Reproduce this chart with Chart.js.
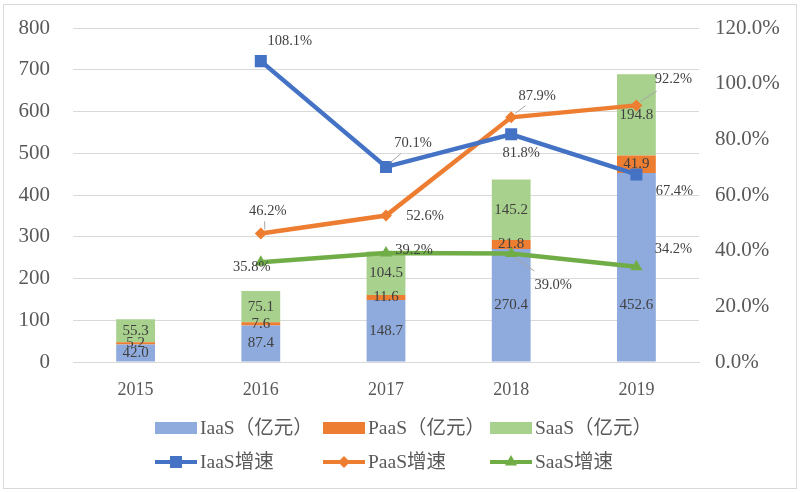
<!DOCTYPE html>
<html>
<head>
<meta charset="utf-8">
<script src="https://cdn.jsdelivr.net/npm/chart.js@4.4.1/dist/chart.umd.min.js"></script>
<style>
html, body { margin: 0; padding: 0; background: #fff; }
#wrap { position: relative; width: 800px; height: 492px; }
#wrap:after { content: ''; position: absolute; left: 3px; top: 4px; right: 3px; bottom: 3px; border: 1px solid #d9d9d9; pointer-events: none; }
</style>
</head>
<body>
<div id="wrap"><canvas id="c" width="800" height="492"></canvas></div>
<script>
// data
const years = ['2015', '2016', '2017', '2018', '2019'];
const iaas = [42.0, 87.4, 148.7, 270.4, 452.6];
const paas = [5.2, 7.6, 11.6, 21.8, 41.9];
const saas = [55.3, 75.1, 104.5, 145.2, 194.8];
const iaasGrowth = [null, 108.1, 70.1, 81.8, 67.4];
const paasGrowth = [null, 46.2, 52.6, 87.9, 92.2];
const saasGrowth = [null, 35.8, 39.2, 39.0, 34.2];
const leftMax = 800, leftStep = 100;
const rightMax = 120, rightStep = 20;

// label placement (pixels from the centre of the segment / from the point)
const iaasBarLabelDy = [0, 0, 0, 0, 38];
const iaasLabelPos = [null, [29, -20, 0], [27, -24, 1], [10, 19, 0], [38, 17, 0]];
const paasLabelPos = [null, [7, -22, 1], [39, 1, 0], [26, -21, 1], [37, -26, 1]];
const saasLabelPos = [null, [-9, 5, 0], [28, -3, 0], [42, 32, 1], [37, -18, 0]];

const SERIF = '"Liberation Serif", "Noto Sans CJK SC", serif';

const labelPlugin = {
  id: 'valueLabels',
  afterDatasetsDraw(chart) {
    const ctx = chart.ctx;
    ctx.save();
    ctx.fillStyle = '#404040';
    ctx.textAlign = 'center';
    ctx.textBaseline = 'middle';
    chart.data.datasets.forEach((ds, i) => {
      const meta = chart.getDatasetMeta(i);
      meta.data.forEach((el, j) => {
        const v = ds.data[j];
        if (v == null) return;
        if (ds.type === 'bar') {
          ctx.font = '15px ' + SERIF;
          const dy = ds.labelDy ? ds.labelDy[j] : 0;
          ctx.fillText(v.toFixed(1), el.x, (el.y + el.base) / 2 + dy);
        } else {
          ctx.font = '14.5px ' + SERIF;
          const p = ds.labelPos[j];
          const lx = el.x + p[0], ly = el.y + p[1];
          if (p[2]) {
            ctx.strokeStyle = '#a6a6a6';
            ctx.lineWidth = 1;
            ctx.beginPath();
            ctx.moveTo(el.x + Math.sign(p[0]) * 4, el.y + Math.sign(p[1]) * 4);
            ctx.lineTo(lx - p[0] * 0.45, ly - p[1] * 0.45);
            ctx.stroke();
          }
          ctx.fillText(v.toFixed(1) + '%', lx, ly);
        }
      });
    });
    ctx.restore();
  }
};

const legendPlugin = {
  id: 'gridLegend',
  afterDraw(chart) {
    const ctx = chart.ctx;
    const cols = [155, 323, 490];
    const rows = [428, 462];
    ctx.save();
    ctx.font = '19.5px ' + SERIF;
    ctx.textAlign = 'left';
    ctx.textBaseline = 'middle';
    chart.data.datasets.forEach((ds, i) => {
      const x = cols[i % 3], y = rows[Math.floor(i / 3)];
      if (ds.type === 'bar') {
        ctx.fillStyle = ds.backgroundColor;
        ctx.fillRect(x, y - 6, 42, 12);
      } else {
        ctx.strokeStyle = ds.borderColor;
        ctx.lineWidth = 4;
        ctx.beginPath();
        ctx.moveTo(x, y);
        ctx.lineTo(x + 42, y);
        ctx.stroke();
        ctx.fillStyle = ds.borderColor;
        Chart.helpers.drawPoint(ctx, { pointStyle: ds.pointStyle, radius: ds.pointRadius, rotation: 0, borderWidth: 0 }, x + 21, y);
      }
      ctx.fillStyle = '#595959';
      ctx.fillText(ds.label, x + 45, y + 1);
    });
    ctx.restore();
  }
};

const noPad = s => { s.paddingTop = 0; s.paddingBottom = 0; };

new Chart(document.getElementById('c'), {
  data: {
    labels: years,
    datasets: [
      { type: 'bar', label: 'IaaS（亿元）', data: iaas, backgroundColor: '#8FAADC', stack: 's', yAxisID: 'y', order: 1, labelDy: iaasBarLabelDy },
      { type: 'bar', label: 'PaaS（亿元）', data: paas, backgroundColor: '#ED7D31', stack: 's', yAxisID: 'y', order: 1 },
      { type: 'bar', label: 'SaaS（亿元）', data: saas, backgroundColor: '#A9D18E', stack: 's', yAxisID: 'y', order: 1 },
      { type: 'line', label: 'IaaS增速', data: iaasGrowth, borderColor: '#4472C4', backgroundColor: '#4472C4',
        borderWidth: 4.5, pointStyle: 'rect', pointRadius: 8.5, yAxisID: 'y1', order: 0, labelPos: iaasLabelPos },
      { type: 'line', label: 'PaaS增速', data: paasGrowth, borderColor: '#ED7D31', backgroundColor: '#ED7D31',
        borderWidth: 4.5, pointStyle: 'rectRot', pointRadius: 6, yAxisID: 'y1', order: 0, labelPos: paasLabelPos },
      { type: 'line', label: 'SaaS增速', data: saasGrowth, borderColor: '#70AD47', backgroundColor: '#70AD47',
        borderWidth: 4.5, pointStyle: 'triangle', pointRadius: 7, yAxisID: 'y1', order: 0, labelPos: saasLabelPos }
    ]
  },
  options: {
    responsive: false,
    animation: false,
    layout: { padding: { top: 28, left: 0, right: 0, bottom: 0 } },
    plugins: { legend: { display: false }, tooltip: { enabled: false } },
    datasets: {
      bar: { categoryPercentage: 1, barPercentage: 0.31, borderWidth: 0 },
      line: { tension: 0, pointBorderWidth: 0 }
    },
    scales: {
      x: {
        stacked: true,
        grid: { display: false },
        border: { color: '#d9d9d9' },
        ticks: { color: '#595959', font: { family: SERIF, size: 18 }, padding: 9 },
        afterFit: s => { s.height = 130; }
      },
      y: {
        stacked: true,
        position: 'left',
        min: 0, max: leftMax,
        ticks: { stepSize: leftStep, color: '#595959', font: { family: SERIF, size: 21 }, padding: 23 },
        grid: { color: '#d9d9d9', drawTicks: false },
        border: { display: false },
        afterFit: s => { s.width = 73; noPad(s); }
      },
      y1: {
        position: 'right',
        min: 0, max: rightMax,
        ticks: { stepSize: rightStep, color: '#595959', font: { family: SERIF, size: 21 }, padding: 16,
          callback: v => v.toFixed(1) + '%' },
        grid: { display: false, drawTicks: false },
        border: { display: false },
        afterFit: s => { s.width = 101; noPad(s); }
      }
    }
  },
  plugins: [labelPlugin, legendPlugin]
});
</script>
</body>
</html>
